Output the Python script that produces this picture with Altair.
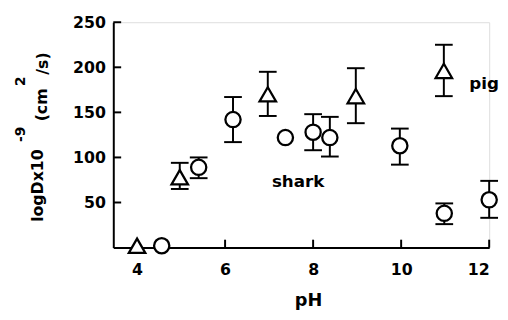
import altair as alt
import pandas as pd

# shark (open circles)
shark_ph = [4.56, 5.4, 6.18, 7.37, 8.0, 8.38, 9.97, 10.98, 12.0]
shark_val = [2, 89, 142, 122, 128, 122, 113, 38, 53]
shark_lo = [None, 77, 117, None, 108, 101, 92, 26, 33]
shark_hi = [None, 100, 167, None, 148, 145, 132, 49, 74]

# pig (open triangles)
pig_ph = [4.0, 4.97, 6.97, 8.97, 10.97]
pig_val = [2, 78, 170, 168, 196]
pig_lo = [None, 65, 146, 138, 168]
pig_hi = [None, 94, 195, 199, 225]

label_text = ["shark", "pig"]
label_ph = [7.66, 11.55]
label_val = [73, 181]

x_ticks = [4, 6, 8, 10, 12]
y_ticks = [50, 100, 150, 200, 250]

FONT = "DejaVu Sans"
W, H = 382, 229

xs = alt.Scale(domain=[3.46, 12], nice=False, zero=False)
ys = alt.Scale(domain=[0, 250], nice=False, zero=False)

xaxis = alt.Axis(values=x_ticks, title="pH", labelPadding=14, titlePadding=15, titleX=198)
yaxis = alt.Axis(values=y_ticks, title=None, labelPadding=8)


def X(f):
    return alt.X(f, type="quantitative", scale=xs, axis=xaxis)


def Y(f):
    return alt.Y(f, type="quantitative", scale=ys, axis=yaxis)


shark = pd.DataFrame({"ph": shark_ph, "val": shark_val, "lo": shark_lo, "hi": shark_hi})
pig = pd.DataFrame({"ph": pig_ph, "val": pig_val, "lo": pig_lo, "hi": pig_hi})
bars = pd.concat([shark, pig]).dropna()
caps = pd.concat([
    bars[["ph", "lo"]].rename(columns={"lo": "v"}),
    bars[["ph", "hi"]].rename(columns={"hi": "v"}),
])

err = alt.Chart(bars).mark_rule(color="black", strokeWidth=2).encode(
    x=X("ph"), y=Y("lo"), y2="hi")
cap = alt.Chart(caps).mark_point(shape="M-1,0L1,0", size=324, stroke="black",
                                 strokeWidth=2, filled=False, opacity=1).encode(
    x=X("ph"), y=Y("v"))
circ = alt.Chart(shark).mark_point(shape="circle", size=240, fill="white", filled=True,
                                   stroke="black", strokeWidth=2.3, opacity=1).encode(
    x=X("ph"), y=Y("val"))
tri = alt.Chart(pig).mark_point(shape="triangle-up", size=280, fill="white", filled=True,
                                stroke="black", strokeWidth=2.3, opacity=1).encode(
    x=X("ph"), y=Y("val"))

lab_df = pd.DataFrame({"t": label_text, "ph": label_ph, "val": label_val})
labels_shark = alt.Chart(lab_df).transform_filter(alt.datum.t == "shark").mark_text(
    font=FONT, fontSize=17, fontWeight="bold", color="black", baseline="middle",
    align="center").encode(x=X("ph"), y=Y("val"), text="t:N")
labels_pig = alt.Chart(lab_df).transform_filter(alt.datum.t == "pig").mark_text(
    font=FONT, fontSize=17, fontWeight="bold", color="black", baseline="middle",
    align="left").encode(x=X("ph"), y=Y("val"), text="t:N")

ytick = alt.Chart(pd.DataFrame({"v": y_ticks})).mark_rule(color="black", strokeWidth=2).encode(
    y=Y("v"), x=alt.value(0), x2=alt.value(8))
xtick = alt.Chart(pd.DataFrame({"v": x_ticks})).mark_rule(color="black", strokeWidth=2).encode(
    x=X("v"), y=alt.value(H), y2=alt.value(H - 8))


def ytitle(text, px, py, size):
    return alt.Chart(alt.Data(values=[{}])).mark_text(
        text=text, font=FONT, fontSize=size, fontWeight="bold", color="black",
        angle=270, align="center", baseline="middle").encode(
        x=alt.value(px), y=alt.value(py))


titles = [
    ytitle("logDx10", -76, 166, 16),
    ytitle("-9", -94, 114, 14),
    ytitle("(cm", -72, 84, 16),
    ytitle("2", -94, 60, 14),
    ytitle("/s)", -71, 42, 16),
]

chart = alt.layer(ytick, xtick, err, cap, circ, tri, labels_shark, labels_pig, *titles).properties(
    width=W, height=H,
    autosize=alt.AutoSizeParams(type="none"),
    padding={"left": 107, "top": 12, "right": 11, "bottom": 62},
).configure_view(stroke=None).configure(background="white").configure_axis(
    domainColor="black", domainWidth=2, ticks=False, grid=False,
    labelFont=FONT, labelFontSize=16, labelFontWeight="bold", labelColor="black",
    titleFont=FONT, titleFontSize=18, titleFontWeight="bold", titleColor="black",
)

chart.save("out.html", embed_options={"renderer": "svg", "actions": False})
